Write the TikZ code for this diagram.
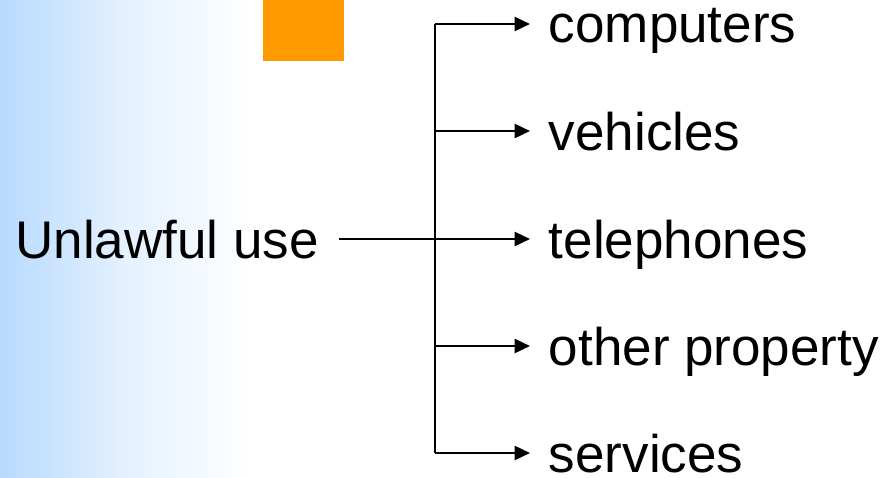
\documentclass[tikz,border=0pt]{standalone}
\usepackage{fontspec}
\setmainfont{Liberation Sans}
\usetikzlibrary{arrows.meta}

\definecolor{paleblue}{RGB}{184,218,255}
\definecolor{taborange}{RGB}{255,154,0}

\begin{document}
\begin{tikzpicture}[x=0.75pt, y=-0.75pt, >={Triangle[length=11.5pt, width=10.5pt]},
  every node/.style={font=\fontsize{39.75}{46}\selectfont, text height=28.5pt, text depth=0pt, inner ysep=0pt},
  link/.style={line width=1.9pt},
  usebox/.style={anchor=west, inner xsep=14pt}]
  \useasboundingbox (0,0) rectangle (889,478);

  % Background strip and corner tab
  \shade[left color=paleblue, right color=white, middle color=paleblue!38!white] (0,0) rectangle (250,478);
  \fill[taborange] (263,0) rectangle (344,61);

  % Source and trunk
  \node[anchor=east, inner xsep=15pt] (src) at (339,239) {Unlawful use};
  \coordinate (top) at (435,24);
  \coordinate (bot) at (435,453);
  \draw[link] (top) -- (bot);

  % Branches
  \node[usebox] (comp) at (530,24)  {computers};
  \node[usebox] (veh)  at (530,131) {vehicles};
  \node[usebox] (tel)  at (530,239) {telephones};
  \node[usebox] (prop) at (530,346) {other property};
  \node[usebox] (serv) at (530,453) {services};

  \draw[link] (src.east) -- (tel.west -| top);
  \foreach \n in {comp, veh, tel, prop, serv}
    \draw[link, ->] (\n.west -| top) -- (\n.west);
\end{tikzpicture}
\end{document}
